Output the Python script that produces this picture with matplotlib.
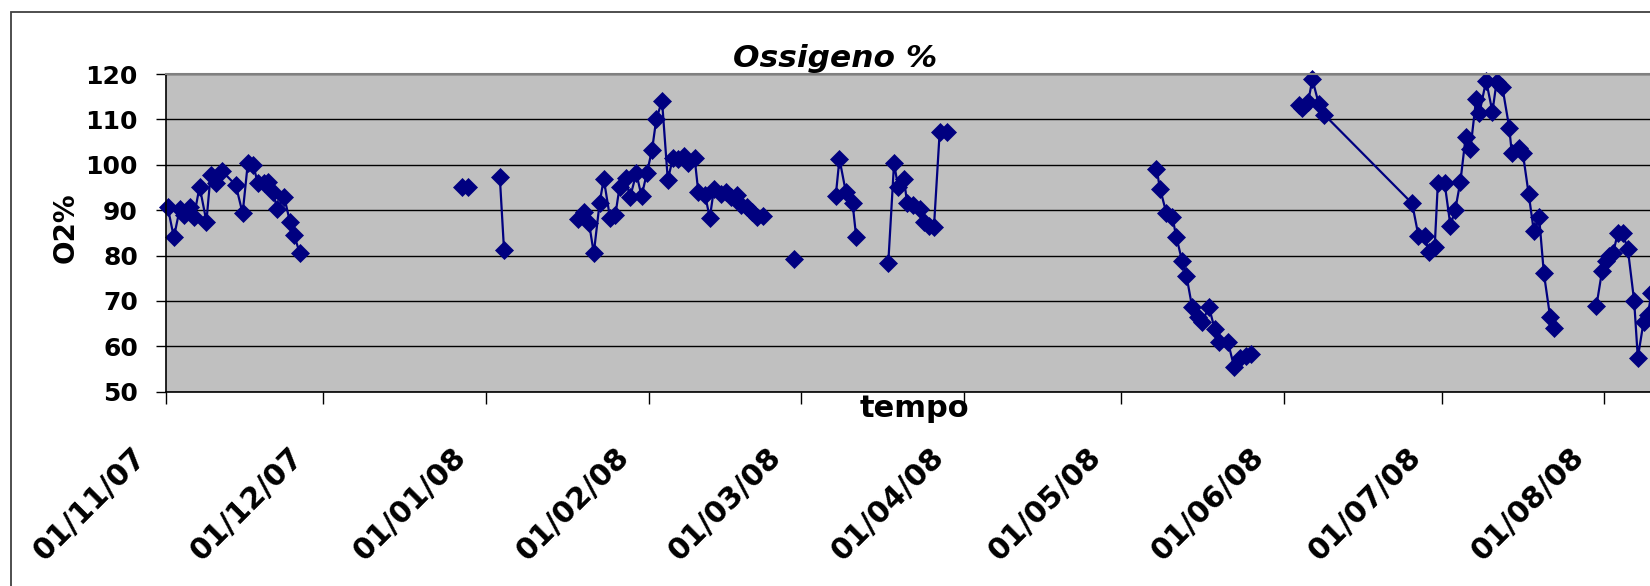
import numpy as np
import matplotlib
matplotlib.use('Agg')
import matplotlib.pyplot as plt
import matplotlib.dates as mdates
from matplotlib.patches import Rectangle
from matplotlib.transforms import ScaledTranslation

# giorni dal 01/11/2007, O2 %, gruppo = tratto continuo (celle vuote = interruzione)
giorni = [
    0.3, 1.5, 2.6, 3.4, 4.5, 5.3, 6.4, 7.7, 8.5, 9.5, 10.7, 13.3, 14.6, 15.6, 16.6, 17.5,
    18.6, 19.5, 20.4, 21.2, 22.5, 23.6, 24.4, 25.5,
    56.3, 57.5,
    63.6, 64.4,
    78.4, 79.6, 80.6, 81.5, 82.6, 83.4, 84.6, 85.6, 86.4, 87.6, 88.4, 89.6, 90.6, 91.6,
    92.6, 93.4, 94.5, 95.6, 96.6, 97.5, 98.7, 99.4, 100.7, 101.4, 102.7, 103.6, 104.4,
    105.7, 106.6, 107.6, 108.7, 109.5, 110.6, 111.7, 112.5, 113.7,
    119.6,
    127.6, 128.3, 129.5, 130.8, 131.5,
    137.6, 138.7, 139.5, 140.6, 141.2, 142.4, 143.6, 144.4, 145.4, 146.3, 147.4, 148.7,
    188.7, 189.4, 190.6, 191.7, 192.5, 193.6, 194.4, 195.5, 196.6, 197.4, 198.7, 199.8,
    200.6, 202.3, 203.5, 204.6, 205.7, 206.8,
    215.8, 216.5, 217.6, 218.4, 219.6, 220.7, 237.4, 238.6, 239.8, 240.6, 241.7, 242.3,
    243.6, 244.7, 245.6, 246.6, 247.6, 248.5, 249.6, 250.2, 251.5, 252.7, 253.5, 254.6,
    255.9, 256.4, 257.8, 258.5, 259.6, 260.6, 261.6, 262.5, 263.7, 264.4,
    272.5, 273.6, 274.3, 274.9, 275.7, 276.6, 277.5, 278.5, 279.7, 280.4, 281.5, 282.3, 283.0,
]
o2 = [
    90.8, 84.0, 90.2, 88.9, 90.8, 88.4, 95.2, 87.5, 97.8, 95.9, 98.6, 95.5, 89.3, 100.5, 100.0, 95.9,
    95.9, 96.1, 93.9, 90.2, 93.0, 87.5, 84.5, 80.5,
    95.0, 95.0,
    97.2, 81.2,
    88.0, 89.7, 87.1, 80.5, 91.5, 96.9, 88.2, 88.9, 95.0, 97.0, 92.8, 98.1, 93.1, 98.1,
    103.3, 110.0, 114.1, 96.7, 101.6, 101.2, 102.0, 100.5, 101.6, 94.1, 93.3, 88.3, 94.7,
    93.5, 94.1, 93.0, 93.3, 91.1, 90.8, 89.5, 88.6, 88.8,
    79.2,
    93.2, 101.3, 94.1, 91.5, 84.0,
    78.3, 100.3, 95.0, 96.8, 91.5, 91.1, 90.3, 87.3, 86.4, 86.2, 107.3, 107.3,
    99.1, 94.6, 89.3, 88.6, 84.0, 78.7, 75.6, 68.6, 66.5, 65.4, 68.6, 63.8,
    61.0, 61.0, 55.4, 57.4, 57.9, 58.3,
    113.2, 112.6, 113.9, 118.8, 113.5, 111.0, 91.5, 84.4, 84.2, 80.7, 81.8, 95.9,
    95.9, 86.6, 90.0, 96.3, 106.1, 103.4, 114.5, 111.3, 118.5, 111.7, 118.3, 117.1,
    108.2, 102.5, 103.6, 102.5, 93.6, 85.3, 88.4, 76.1, 66.4, 64.1,
    68.8, 76.7, 78.7, 79.8, 80.6, 85.0, 84.9, 81.4, 70.0, 57.5, 65.4, 66.9, 71.7,
]
gruppo = ([1] * 24 + [2] * 2 + [3] * 2 + [4] * 36 + [5] * 1 + [6] * 5 + [7] * 12
          + [8] * 18 + [9] * 34 + [10] * 13)

mesi = ['2007-11-01', '2007-12-01', '2008-01-01', '2008-02-01', '2008-03-01',
        '2008-04-01', '2008-05-01', '2008-06-01', '2008-07-01', '2008-08-01']

inizio = mdates.date2num(np.datetime64('2007-11-01'))
x = inizio + np.array(giorni)
y = np.array(o2)
g = np.array(gruppo)

W, H = 1650, 586
fig = plt.figure(figsize=(W / 100, H / 100), dpi=100)

# cornice esterna del grafico
fig.patches.append(Rectangle((11 / W, -0.1), 1.2, 1 - 12 / H + 0.1, transform=fig.transFigure,
                             fill=False, ec='#404040', lw=1.3))

ax = fig.add_axes([166 / W, 194.3 / H, (1700 - 166) / W, 317.7 / H])
ax.set_facecolor('#C0C0C0')

for k in np.unique(g):
    m = g == k
    ax.plot(x[m], y[m], color='#000080', lw=1.6, marker='D', ms=9.2,
            mfc='#000080', mec='#000080', mew=0.5, clip_on=False)

ax.set_xlim(inizio, inizio + 1534 / 5.249)
ax.set_ylim(50, 120)
ax.set_yticks(range(50, 121, 10))
ax.set_xticks([mdates.date2num(np.datetime64(d)) for d in mesi])
ax.xaxis.set_major_formatter(mdates.DateFormatter('%d/%m/%y'))

ax.set_axisbelow(True)
ax.yaxis.grid(True, color='black', lw=1.0)
ax.spines['right'].set_visible(False)
ax.spines['top'].set_color('#808080')
ax.spines['top'].set_linewidth(1.5)
ax.spines['left'].set_linewidth(1.2)
ax.spines['bottom'].set_linewidth(1.2)

ax.tick_params(axis='y', length=7.2, width=1, pad=13, labelsize=18)
ax.tick_params(axis='x', length=8.6, width=1, pad=28, labelsize=21.5)
for lab in ax.get_yticklabels():
    lab.set_fontweight('bold')
sposta = ScaledTranslation(-25 / 72, 0, fig.dpi_scale_trans)
for lab in ax.get_xticklabels():
    lab.set_fontweight('bold')
    lab.set_rotation(45)
    lab.set_rotation_mode('anchor')
    lab.set_ha('right')
    lab.set_va('top')
    lab.set_transform(lab.get_transform() + sposta)

fig.text(835.5 / W, 1 - 67 / H, 'Ossigeno %', ha='center', va='baseline',
         fontsize=22.5, fontweight='bold', fontstyle='italic')
fig.text(914 / W, 1 - 417 / H, 'tempo', ha='center', va='baseline',
         fontsize=22, fontweight='bold')
fig.text(65.5 / W, 1 - 227.5 / H, 'O2%', ha='center', va='center', rotation=90,
         fontsize=20, fontweight='bold')

fig.savefig('out.png', dpi=100)
